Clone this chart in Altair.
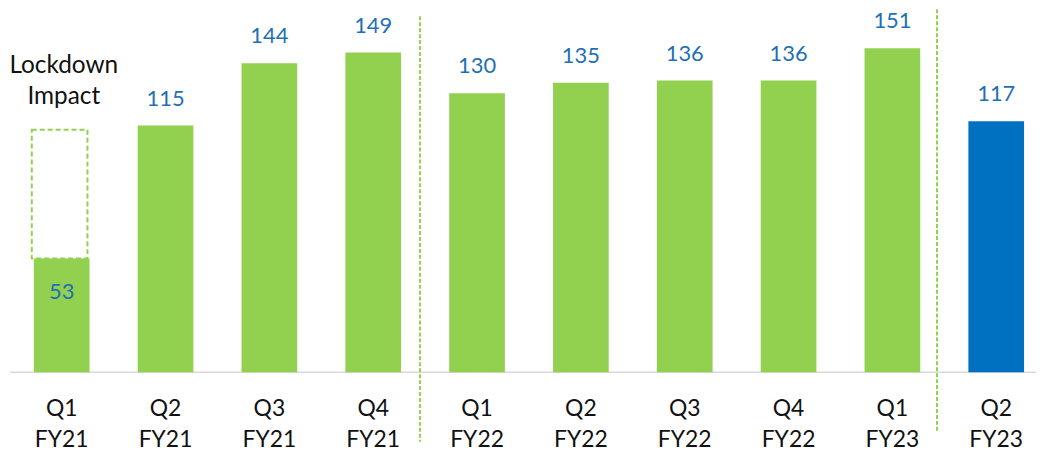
import altair as alt
import pandas as pd

quarters = ["Q1\nFY21", "Q2\nFY21", "Q3\nFY21", "Q4\nFY21", "Q1\nFY22",
            "Q2\nFY22", "Q3\nFY22", "Q4\nFY22", "Q1\nFY23", "Q2\nFY23"]
values = [53, 115, 144, 149, 130, 135, 136, 136, 151, 117]
colors = ["#92D050"] * 9 + ["#0070C0"]
lockdown_low = [53]
lockdown_high = [113]
separators = [3.45, 8.43]

df = pd.DataFrame({
    "i": list(range(len(quarters))),
    "q": quarters,
    "v": values,
    "c": colors,
})

FONT = "Lato"
XS = alt.Scale(domain=[-0.498, 9.383], nice=False, zero=False, padding=0)
YS = alt.Scale(domain=[0, 169.2], nice=False)
x = alt.X("i:Q", scale=XS, axis=None)
y = alt.Y("v:Q", scale=YS, axis=None)

bars = alt.Chart(df).mark_bar(width=56).encode(
    x=x, y=y, color=alt.Color("c:N", scale=None)
)

labels_top = alt.Chart(df[df.i > 0]).mark_text(
    font=FONT, fontSize=22, color="#1F6FB4", baseline="alphabetic", dy=-20
).encode(x=x, y=y, text="v:Q")

labels_in = alt.Chart(df[df.i == 0]).mark_text(
    font=FONT, fontSize=22, color="#1F6FB4", baseline="alphabetic", dy=41
).encode(x=x, y=y, text="v:Q")

cats = alt.Chart(df).mark_text(
    font=FONT, fontSize=23, color="#111111", baseline="alphabetic",
    lineBreak="\n", lineHeight=31
).encode(x=x, y=alt.value(409), text="q:N")

box_df = pd.DataFrame({"i": [-0.02], "lo": lockdown_low, "hi": lockdown_high})
box = alt.Chart(box_df).mark_bar(
    width=56, fill="white", fillOpacity=0, stroke="#92D050",
    strokeWidth=2, strokeDash=[5, 3]
).encode(x=alt.X("i:Q", scale=XS, axis=None),
         y=alt.Y("lo:Q", scale=YS, axis=None),
         y2="hi:Q")

lock_df = pd.DataFrame({"i": [0.02], "t": ["Lockdown\nImpact"]})
lock = alt.Chart(lock_df).mark_text(
    font=FONT, fontSize=24.5, color="#111111", baseline="alphabetic",
    lineBreak="\n", lineHeight=31
).encode(x=alt.X("i:Q", scale=XS, axis=None),
         y=alt.value(64), text="t:N")

sep_df = pd.DataFrame({"s": separators, "y1": [7, -6], "y2": [435, 424]})
seps = alt.Chart(sep_df).mark_rule(
    stroke="#92D050", strokeWidth=2, strokeDash=[4, 2]
).encode(x=alt.X("s:Q", scale=XS, axis=None),
         y=alt.Y("y1:Q", scale=None), y2="y2:Q")

base_df = pd.DataFrame({"a": [0]})
baseline = alt.Chart(base_df).mark_rule(stroke="#D9D9D9", strokeWidth=1.5).encode(
    x=alt.value(0), x2=alt.value(1034), y=alt.value(365)
)

chart = alt.layer(baseline, bars, box, labels_top, labels_in, cats, lock, seps).properties(
    width=1032, height=365,
    padding={"left": 2, "top": 0, "right": 0, "bottom": 82},
    autosize=alt.AutoSizeParams(type="none"),
    background="white",
).configure_view(stroke=None)

chart.save("out.html", embed_options={"renderer": "svg", "actions": False})
